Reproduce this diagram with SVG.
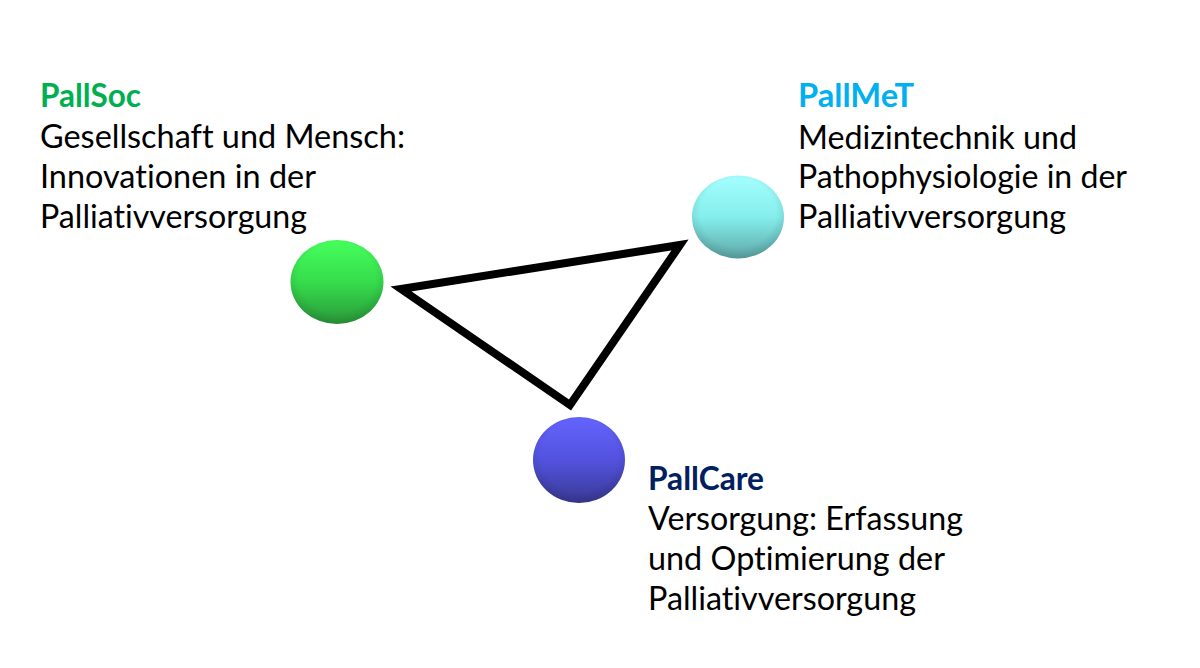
<svg xmlns="http://www.w3.org/2000/svg" width="1200" height="668" viewBox="0 0 1200 668">
  <style>
    text { font-family: Lato, "Open Sans", "Liberation Sans", sans-serif; font-size: 32px; fill: #000; font-variant-ligatures: none; font-feature-settings: "liga" 0, "clig" 0; }
    .title { font-weight: bold; }
    .soc { fill: #00B050; }
    .met { fill: #00B0F0; }
    .care { fill: #002060; }
    .edge { fill: none; stroke: #000; stroke-width: 8; stroke-linejoin: miter; }
  </style>
  <defs>
    <linearGradient id="gGreen" x1="0" y1="0" x2="0" y2="1">
      <stop offset="0" stop-color="#46ff5c"/>
      <stop offset="0.5" stop-color="#36dc4c"/>
      <stop offset="1" stop-color="#2a9a3a"/>
    </linearGradient>
    <linearGradient id="gCyan" x1="0" y1="0" x2="0" y2="1">
      <stop offset="0" stop-color="#a4ffff"/>
      <stop offset="0.5" stop-color="#84eeec"/>
      <stop offset="1" stop-color="#5ea8a8"/>
    </linearGradient>
    <linearGradient id="gBlue" x1="0" y1="0" x2="0" y2="1">
      <stop offset="0" stop-color="#6464ff"/>
      <stop offset="0.5" stop-color="#5252de"/>
      <stop offset="1" stop-color="#3a3a96"/>
    </linearGradient>
    <radialGradient id="rim" cx="0.5" cy="0.45" r="0.55">
      <stop offset="0.75" stop-color="#000" stop-opacity="0"/>
      <stop offset="1" stop-color="#000" stop-opacity="0.12"/>
    </radialGradient>
  </defs>
  <rect width="1200" height="668" fill="#fff"/>

  <g id="connectors">
    <polygon class="edge" points="401,289 680,245 570,405"/>
  </g>

  <g id="node-pallsoc">
    <ellipse cx="337" cy="282" rx="46.5" ry="42" fill="url(#gGreen)"/>
    <ellipse cx="337" cy="282" rx="46.5" ry="42" fill="url(#rim)"/>
    <text x="40" y="107" class="title soc" textLength="101" lengthAdjust="spacingAndGlyphs">PallSoc</text>
    <text x="40" y="148" textLength="365" lengthAdjust="spacingAndGlyphs">Gesellschaft und Mensch:</text>
    <text x="40" y="188" textLength="276" lengthAdjust="spacingAndGlyphs">Innovationen in der</text>
    <text x="40" y="228" textLength="267" lengthAdjust="spacingAndGlyphs">Palliativversorgung</text>
  </g>

  <g id="node-pallmet">
    <ellipse cx="738" cy="217" rx="46" ry="41.5" fill="url(#gCyan)"/>
    <ellipse cx="738" cy="217" rx="46" ry="41.5" fill="url(#rim)"/>
    <text x="798" y="107" class="title met" textLength="116" lengthAdjust="spacingAndGlyphs">PallMeT</text>
    <text x="798" y="149" textLength="279" lengthAdjust="spacingAndGlyphs">Medizintechnik und</text>
    <text x="798" y="188" textLength="329" lengthAdjust="spacingAndGlyphs">Pathophysiologie in der</text>
    <text x="798" y="228" textLength="268" lengthAdjust="spacingAndGlyphs">Palliativversorgung</text>
  </g>

  <g id="node-pallcare">
    <ellipse cx="579" cy="460" rx="46" ry="43" fill="url(#gBlue)"/>
    <ellipse cx="579" cy="460" rx="46" ry="43" fill="url(#rim)"/>
    <text x="648" y="490" class="title care" textLength="116" lengthAdjust="spacingAndGlyphs">PallCare</text>
    <text x="648" y="530" textLength="315" lengthAdjust="spacingAndGlyphs">Versorgung: Erfassung</text>
    <text x="648" y="570" textLength="297" lengthAdjust="spacingAndGlyphs">und Optimierung der</text>
    <text x="648" y="610" textLength="268" lengthAdjust="spacingAndGlyphs">Palliativversorgung</text>
  </g>
</svg>
